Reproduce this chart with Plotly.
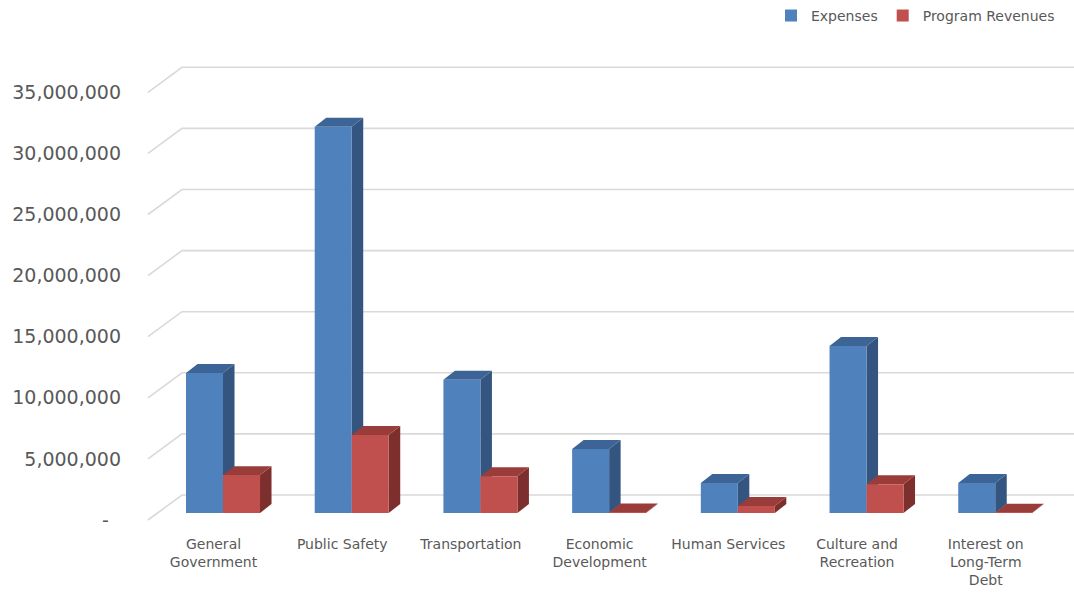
import plotly.graph_objects as go

# ---------------- data ----------------
categories = ["General<br>Government", "Public Safety", "Transportation",
              "Economic<br>Development", "Human Services",
              "Culture and<br>Recreation", "Interest on<br>Long-Term<br>Debt"]
expenses = [11_460_000, 31_600_000, 10_900_000, 5_240_000, 2_450_000, 13_670_000, 2_450_000]
program_revenues = [3_100_000, 6_380_000, 3_000_000, 40_000, 570_000, 2_350_000, 30_000]
y_ticks = [0, 5_000_000, 10_000_000, 15_000_000, 20_000_000, 25_000_000, 30_000_000, 35_000_000]
y_tick_labels = ["-\u00a0\u00a0", "5,000,000", "10,000,000", "15,000,000", "20,000,000",
                 "25,000,000", "30,000,000", "35,000,000"]

# ---------------- style / 3D geometry (in axis units) ----------------
BAR_W = 0.2875               # width of each bar (category units)
DEPTH_DX, DEPTH_DY = 0.0894, 736_000     # bar depth projection
FRONT_DX, FRONT_DY = -0.0738, -573_000   # front plane (labels) relative to bars
BACK_DX, BACK_DY = 0.1904, 1_473_000     # back wall relative to bars
FRONT_LEFT = -0.583
X_RANGE = [-0.645, 6.612]
Y_RANGE = [-1_391_000, 37_890_000]

BLUE, BLUE_TOP, BLUE_SIDE = "#4F81BD", "#3C6496", "#345580"
RED, RED_TOP, RED_SIDE = "#C0504D", "#9A3C3A", "#7D2F2D"
GRID = "#D9D9D9"
TXT = "#595959"
FONT = "DejaVu Sans"

xs = list(range(len(categories)))

fig = go.Figure()
fig.add_trace(go.Bar(x=xs, y=expenses, name="Expenses", width=BAR_W, offset=-BAR_W,
                     marker=dict(color=BLUE, line=dict(width=0))))
fig.add_trace(go.Bar(x=xs, y=program_revenues, name="Program Revenues", width=BAR_W, offset=0,
                     marker=dict(color=RED, line=dict(width=0))))

shapes = []
# gridlines: diagonal on the side wall + horizontal on the back wall
back_left = FRONT_LEFT + (BACK_DX - FRONT_DX)
for v in y_ticks:
    yf = v + FRONT_DY
    yb = v + BACK_DY
    shapes.append(dict(type="path", xref="x", yref="y", layer="below",
                       path=f"M {FRONT_LEFT},{yf} L {back_left},{yb} L {X_RANGE[1]},{yb}",
                       line=dict(color=GRID, width=1.6)))


def faces(x0, v, top_col, side_col):
    x1 = x0 + BAR_W
    side = f"M {x1},0 L {x1},{v} L {x1 + DEPTH_DX},{v + DEPTH_DY} L {x1 + DEPTH_DX},{DEPTH_DY} Z"
    top = f"M {x0},{v} L {x1},{v} L {x1 + DEPTH_DX},{v + DEPTH_DY} L {x0 + DEPTH_DX},{v + DEPTH_DY} Z"
    return [dict(type="path", xref="x", yref="y", layer="below", path=side,
                 fillcolor=side_col, line=dict(width=0)),
            dict(type="path", xref="x", yref="y", layer="below", path=top,
                 fillcolor=top_col, line=dict(width=0))]


for i, v in zip(xs, expenses):
    shapes += faces(i - BAR_W, v, BLUE_TOP, BLUE_SIDE)
for i, v in zip(xs, program_revenues):
    shapes += faces(i, v, RED_TOP, RED_SIDE)

fig.update_layout(
    width=1074, height=599,
    margin=dict(l=140, r=0, t=50, b=69, autoexpand=False),
    plot_bgcolor="white", paper_bgcolor="white",
    barmode="overlay",
    shapes=shapes,
    font=dict(family=FONT, color=TXT),
    showlegend=True,
    legend=dict(orientation="h", x=0.985, xanchor="right", y=1.071, yanchor="middle",
                font=dict(family=FONT, size=14, color=TXT), bgcolor="rgba(0,0,0,0)",
                itemwidth=30, traceorder="normal"),
    xaxis=dict(range=X_RANGE, tickvals=[i + FRONT_DX for i in xs], ticktext=categories,
               showgrid=False, zeroline=False, showline=False, ticks="",
               tickfont=dict(family=FONT, size=14, color=TXT), ticklabelstandoff=4),
    yaxis=dict(range=Y_RANGE, tickvals=[v + FRONT_DY for v in y_ticks], ticktext=y_tick_labels,
               showgrid=False, zeroline=False, showline=False, ticks="",
               tickfont=dict(family=FONT, size=19, color=TXT), ticklabelstandoff=18),
)

fig.write_html("out.html")
